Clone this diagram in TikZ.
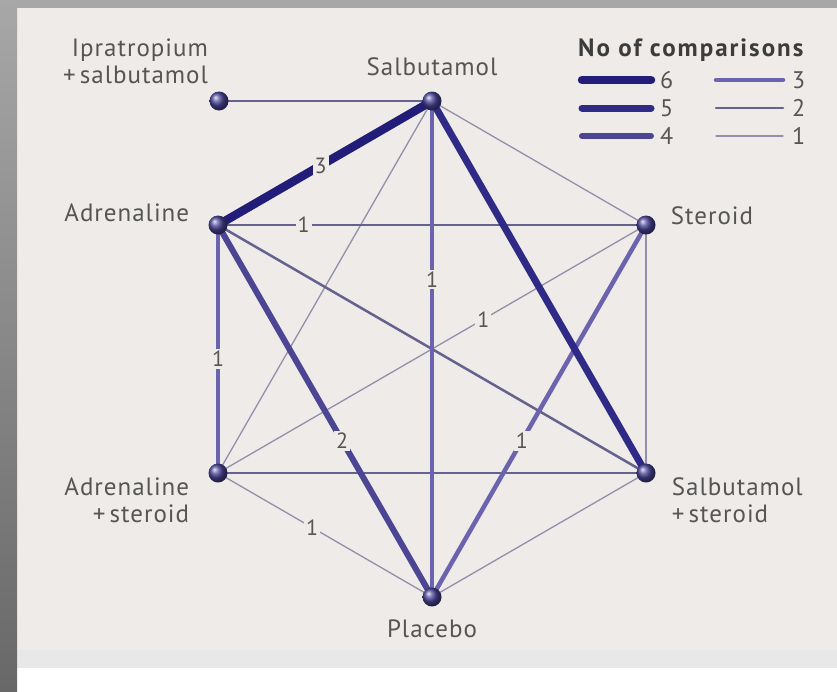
\documentclass[tikz,border=0pt]{standalone}
\usepackage{fontspec}
\setmainfont{PT Sans}[LetterSpace=4]
\usepackage{tikz}
\usetikzlibrary{positioning,backgrounds}

\definecolor{panel}{HTML}{EEEBE8}
\definecolor{band}{HTML}{E8E8E9}
\definecolor{frame}{HTML}{A7A7A7}
\definecolor{framedk}{HTML}{686868}
\definecolor{ink}{HTML}{555555}
\definecolor{inkdk}{HTML}{3C3C3C}
\definecolor{ballc}{HTML}{4A4599}
\definecolor{c1}{HTML}{928FAD}
\definecolor{c2}{HTML}{66628F}
\definecolor{c3}{HTML}{6C63AF}
\definecolor{c4}{HTML}{4B4594}
\definecolor{c5}{HTML}{2E2A86}
\definecolor{c6}{HTML}{211D78}

\begin{document}
\begin{tikzpicture}[
  x=1pt,y=-1pt,
  font=\fontsize{25}{27}\selectfont,
  every node/.style={text=ink},
  ball/.style={circle,minimum size=19pt,inner sep=0pt,shading=ball,ball color=ballc},
  lbl/.style={inner sep=0pt},
  num/.style={fill=panel,inner sep=2pt,font=\fontsize{22}{24}\selectfont},
  key/.style={inner sep=9pt,anchor=west,font=\fontsize{24}{26}\selectfont},
  w1/.style={line width=1.3pt,draw=c1},
  w2/.style={line width=2.5pt,draw=c2},
  w3/.style={line width=4.5pt,draw=c3},
  w4/.style={line width=6pt,draw=c4},
  w5/.style={line width=7pt,draw=c5},
  w6/.style={line width=8.5pt,draw=c6}
]
\useasboundingbox (0,0) rectangle (837,691);
% --- frame ---
\begin{scope}[on background layer]
  \fill[white] (0,0) rectangle (837,691);
  \fill[panel] (17,8) rectangle (837,650);
  \fill[band] (17,650) rectangle (837,668);
  \fill[frame] (0,0) rectangle (837,8);
  \shade[top color=frame,bottom color=framedk] (0,0) rectangle (17,691);
\end{scope}
% --- treatments ---
\node[ball] (salb)  at (432,101) {};
\node[ball] (ipra)  at (219,101) {};
\node[ball] (adr)   at (218,225) {};
\node[ball] (ster)  at (646,225) {};
\node[ball] (adrs)  at (218,473) {};
\node[ball] (salbs) at (646,473) {};
\node[ball] (plac)  at (432,597) {};
\node[lbl,align=right,above left=10pt and 4pt of ipra] (ipraL) {Ipratropium\\+\,salbutamol};
\node[lbl,above=15pt of salb] (salbL) {Salbutamol};
\node[lbl,left=19pt of adr,yshift=12pt] (adrL) {Adrenaline};
\node[lbl,right=15pt of ster,yshift=9pt] (sterL) {Steroid};
\node[lbl,align=right,left=19pt of adrs,yshift=-27pt] (adrsL) {Adrenaline\\+\,steroid};
\node[lbl,align=left,right=16pt of salbs,yshift=-27pt] (salbsL) {Salbutamol\\+\,steroid};
\node[lbl,below=13pt of plac] (placL) {Placebo};
% --- comparisons ---
\begin{scope}[on background layer]
\foreach \a/\b/\w in {salb/ster/1,salb/adrs/1,ster/salbs/1,plac/salbs/1,
                      ipra/salb/2,adr/salbs/2,adrs/salbs/2}
  \draw[w\w] (\a.center) -- (\b.center);
\foreach \a/\b/\w/\p/\t in {ster/adrs/1/0.38/1,adrs/plac/1/0.44/1,
                            adr/ster/2/0.2/1,salb/plac/3/0.36/1,
                            adr/adrs/3/0.54/1,ster/plac/3/0.58/1,
                            adr/plac/4/0.58/2}
  \draw[w\w] (\a.center) -- node[num,pos=\p] {\t} (\b.center);
\draw[w5] (salb.center) -- (salbs.center);
\draw[w6] (salb.center) -- node[num,pos=0.52] {3} (adr.center);
\end{scope}
% --- legend ---
\node[lbl,anchor=west,text=inkdk,
      font=\fontsize{25}{27}\selectfont\bfseries\addfontfeatures{LetterSpace=8}]
  (keyT) at (578,50) {No of comparisons};
\foreach \w/\y in {6/80,5/108,4/136}{
  \coordinate (s\w) at (582,\y);
  \node[key] (k\w) at (651,\y) {\w};
  \draw[w\w,line cap=round] (s\w) -- (k\w);
}
\foreach \w/\y in {3/80,2/108,1/136}{
  \coordinate (s\w) at (716,\y);
  \node[key] (k\w) at (783,\y) {\w};
  \draw[w\w,line cap=round] (s\w) -- (k\w);
}
\end{tikzpicture}
\end{document}
